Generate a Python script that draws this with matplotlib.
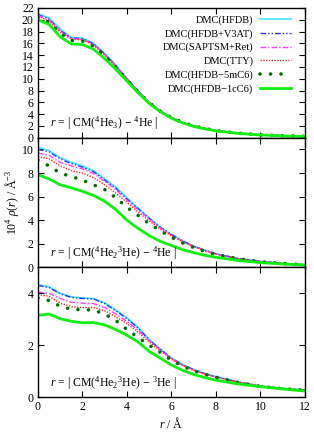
import matplotlib
matplotlib.use('Agg')
import matplotlib.pyplot as plt

plt.rcParams['font.family'] = ['Liberation Serif', 'DejaVu Serif']
plt.rcParams['mathtext.fontset'] = 'custom'
plt.rcParams['mathtext.rm'] = 'Liberation Serif'
plt.rcParams['mathtext.it'] = 'Liberation Serif:italic'

# радиальная сетка, Å
r = [0, 0.5, 1, 1.5, 2, 2.5, 3, 3.5, 4, 4.5, 5, 5.5, 6, 6.5, 7, 7.5, 8, 9, 10, 11, 12]

# панель 1: r = |CM(4He3) - 4He|
hfdb_a = [21.0, 20.3, 18.4, 17.0, 16.9, 16.0, 14.3, 12.3, 10.0, 7.9, 6.0, 4.5, 3.4, 2.6, 2.0, 1.55, 1.2, 0.75, 0.48, 0.32, 0.22]
v3at_a = [20.9, 20.1, 18.2, 16.9, 16.8, 15.9, 14.2, 12.2, 10.0, 7.9, 6.0, 4.5, 3.4, 2.6, 2.0, 1.55, 1.2, 0.75, 0.48, 0.32, 0.22]
sapt_a = [20.8, 20.0, 18.1, 16.8, 16.7, 15.8, 14.1, 12.2, 10.0, 7.9, 6.0, 4.5, 3.4, 2.6, 2.0, 1.55, 1.2, 0.75, 0.48, 0.32, 0.22]
tty_a = [20.6, 19.8, 17.9, 16.7, 16.6, 15.7, 14.0, 12.1, 9.9, 7.8, 6.0, 4.5, 3.4, 2.6, 2.0, 1.55, 1.2, 0.75, 0.48, 0.32, 0.22]
c6m_a = [20.4, 19.6, 17.7, 16.5, 16.4, 15.5, 13.9, 12.0, 9.8, 7.8, 5.9, 4.5, 3.4, 2.6, 2.0, 1.55, 1.2, 0.75, 0.48, 0.32, 0.22]
c6c_a = [20.0, 19.2, 17.1, 15.9, 15.8, 15.0, 13.4, 11.6, 9.6, 7.6, 5.8, 4.4, 3.3, 2.5, 1.9, 1.5, 1.15, 0.72, 0.46, 0.3, 0.2]

# панель 2: r = |CM(4He2 3He) - 4He|
hfdb_b = [10.2, 9.9, 9.3, 8.9, 8.6, 8.2, 7.5, 6.8, 5.9, 5.0, 4.2, 3.4, 2.8, 2.25, 1.8, 1.45, 1.15, 0.75, 0.5, 0.33, 0.22]
v3at_b = [10.0, 9.8, 9.2, 8.8, 8.5, 8.1, 7.4, 6.7, 5.8, 5.0, 4.15, 3.4, 2.8, 2.25, 1.8, 1.45, 1.15, 0.75, 0.5, 0.33, 0.22]
sapt_b = [9.7, 9.5, 8.9, 8.6, 8.35, 7.95, 7.3, 6.6, 5.7, 4.9, 4.1, 3.35, 2.75, 2.2, 1.78, 1.43, 1.13, 0.74, 0.5, 0.33, 0.22]
tty_b = [9.4, 9.2, 8.6, 8.2, 8.0, 7.6, 7.0, 6.3, 5.5, 4.7, 3.95, 3.25, 2.7, 2.17, 1.75, 1.4, 1.12, 0.73, 0.49, 0.33, 0.22]
c6m_b = [9.1, 8.6, 8.0, 7.7, 7.4, 7.0, 6.6, 5.9, 5.1, 4.4, 3.7, 3.1, 2.55, 2.07, 1.68, 1.35, 1.09, 0.72, 0.48, 0.32, 0.22]
c6c_b = [7.85, 7.5, 7.0, 6.75, 6.45, 6.1, 5.6, 4.9, 4.0, 3.3, 2.7, 2.2, 1.85, 1.5, 1.25, 1.02, 0.85, 0.58, 0.4, 0.28, 0.2]

# панель 3: r = |CM(4He2 3He) - 3He|
hfdb_c = [4.33, 4.25, 4.0, 3.86, 3.82, 3.8, 3.63, 3.35, 3.05, 2.68, 2.22, 1.85, 1.5, 1.25, 1.06, 0.91, 0.79, 0.58, 0.42, 0.33, 0.27]
v3at_c = [4.3, 4.22, 3.98, 3.84, 3.8, 3.78, 3.6, 3.33, 3.02, 2.66, 2.2, 1.84, 1.5, 1.25, 1.05, 0.9, 0.78, 0.58, 0.42, 0.33, 0.27]
sapt_c = [4.05, 4.0, 3.8, 3.65, 3.62, 3.6, 3.45, 3.2, 2.92, 2.58, 2.17, 1.82, 1.48, 1.23, 1.04, 0.89, 0.77, 0.57, 0.42, 0.33, 0.27]
tty_c = [3.95, 3.88, 3.62, 3.48, 3.45, 3.45, 3.32, 3.1, 2.83, 2.5, 2.12, 1.78, 1.45, 1.21, 1.03, 0.88, 0.77, 0.57, 0.42, 0.33, 0.27]
c6m_c = [3.82, 3.72, 3.5, 3.38, 3.37, 3.35, 3.2, 2.95, 2.6, 2.3, 2.0, 1.72, 1.42, 1.19, 1.01, 0.87, 0.76, 0.56, 0.41, 0.32, 0.26]
c6c_c = [3.15, 3.2, 3.02, 2.92, 2.86, 2.87, 2.78, 2.6, 2.38, 2.12, 1.76, 1.5, 1.23, 1.03, 0.87, 0.75, 0.65, 0.5, 0.4, 0.31, 0.23]

labels = ['DMC(HFDB)', 'DMC(HFDB+V3AT)', 'DMC(SAPTSM+Ret)',
          'DMC(TTY)', 'DMC(HFDB\u22125mC6)', 'DMC(HFDB\u22121cC6)']

styles = [
    dict(color='#40e8ff', lw=1.2, ls='-'),
    dict(color='#3030ff', lw=1.0, ls=(0, (4, 1.5, 1, 1.5, 1, 1.5))),
    dict(color='#ff40ff', lw=1.0, ls=(0, (4, 1.5, 1, 1.5))),
    dict(color='#ff3030', lw=1.0, ls=(0, (1, 1))),
    dict(color='#006e00', lw=2.6, ls=(0, (0.01, 2.9)), dash_capstyle='round'),
    dict(color='#10f010', lw=2.0, ls='-'),
]

panels = [
    ([hfdb_a, v3at_a, sapt_a, tty_a, c6m_a, c6c_a], 22, range(0, 23, 2),
     r'$r$ = | CM($^4$He$_3$) $-$ $^4$He |'),
    ([hfdb_b, v3at_b, sapt_b, tty_b, c6m_b, c6c_b], 11, range(0, 11, 2),
     r'$r$ = | CM($^4$He$_2$$^3$He) $-$ $^4$He |'),
    ([hfdb_c, v3at_c, sapt_c, tty_c, c6m_c, c6c_c], 5, range(0, 5, 2),
     r'$r$ = | CM($^4$He$_2$$^3$He) $-$ $^3$He |'),
]

fig, axes = plt.subplots(3, 1, figsize=(3.14, 4.32), dpi=100, sharex=True)
fig.subplots_adjust(left=0.121, right=0.971, top=0.9815, bottom=0.081, hspace=0)

for ax, (series, ytop, yticks, note) in zip(axes, panels):
    for y, lab, st in zip(series, labels, styles):
        ax.plot(r, y, label=lab, **st)
    ax.set_xlim(0, 12)
    ax.set_ylim(0, ytop)
    ax.set_yticks(list(yticks))
    ax.set_xticks(range(0, 13, 2))
    ax.tick_params(direction='in', top=True, right=True, length=4,
                   width=0.8, labelsize=8.5, pad=3)
    for s in ax.spines.values():
        s.set_linewidth(1.0)
    ax.text(0.045, 0.11, note, transform=ax.transAxes, fontsize=8.5,
            va='center', ha='left')

axes[0].legend(loc='upper right', bbox_to_anchor=(0.975, 1.0), frameon=False,
               markerfirst=False, fontsize=7.5, handlelength=3.0,
               labelspacing=0.4, handletextpad=0.6, borderaxespad=0.3)

axes[1].set_ylabel(r'10$^4$ $\rho$($r$) / Å$^{-3}$', fontsize=8.5, labelpad=1)
axes[2].set_xlabel(r'$r$ / Å', fontsize=8.5, labelpad=2)

fig.savefig('out.png', dpi=100)
